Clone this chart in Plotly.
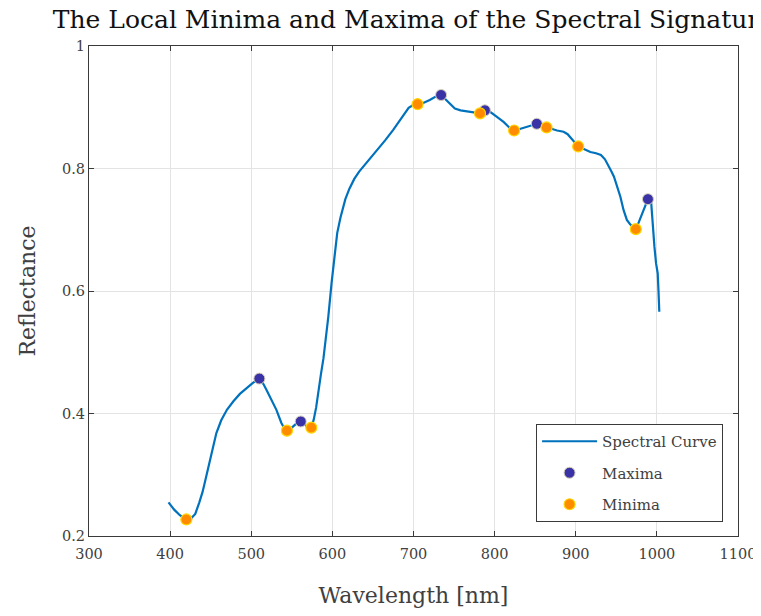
import plotly.graph_objects as go

wavelength = [398, 405, 412, 420, 426, 431, 436, 440, 445, 449, 453, 457, 463, 470, 478, 486, 494, 502, 510,
              515, 519, 525, 531, 537, 541, 544, 550, 556, 561, 566, 570, 574, 577, 580, 583, 586, 589, 592,
              595, 599, 603, 606, 610, 616, 621, 627, 633, 640, 648, 656, 665, 675, 685, 694, 700, 705, 712,
              720, 727, 734, 740, 746, 751, 758, 766, 774, 782, 788, 794, 802, 811, 818, 824, 832, 840, 846,
              852, 858, 864, 870, 877, 885, 890, 896, 903, 910, 918, 925, 931, 936, 940, 944, 947, 951, 955,
              959, 963, 967, 970, 974, 977, 980, 984, 989, 993, 995, 997, 999, 1001, 1002, 1003]
reflectance = [0.255, 0.243, 0.234, 0.227, 0.229, 0.236, 0.255, 0.272, 0.300, 0.324, 0.348, 0.368, 0.389, 0.406,
               0.420, 0.432, 0.441, 0.450, 0.457, 0.448, 0.438, 0.422, 0.406, 0.385, 0.375, 0.372, 0.377, 0.384,
               0.387, 0.382, 0.377, 0.377, 0.390, 0.410, 0.440, 0.465, 0.490, 0.520, 0.558, 0.613, 0.667, 0.695,
               0.720, 0.750, 0.767, 0.783, 0.795, 0.806, 0.818, 0.830, 0.846, 0.863, 0.882, 0.899, 0.904, 0.905,
               0.907, 0.912, 0.917, 0.920, 0.912, 0.903, 0.898, 0.895, 0.893, 0.892, 0.890, 0.895, 0.893, 0.885,
               0.876, 0.867, 0.862, 0.865, 0.868, 0.870, 0.873, 0.870, 0.867, 0.865, 0.862, 0.860, 0.856, 0.847,
               0.836, 0.832, 0.827, 0.825, 0.822, 0.815, 0.806, 0.795, 0.787, 0.770, 0.754, 0.732, 0.716, 0.709,
               0.706, 0.701, 0.710, 0.720, 0.735, 0.750, 0.744, 0.700, 0.672, 0.645, 0.629, 0.600, 0.566]

max_wl = [510, 561, 734, 788, 852, 989]
max_val = [0.457, 0.387, 0.920, 0.895, 0.873, 0.750]
min_wl = [420, 544, 574, 705, 782, 824, 864, 903, 974]
min_val = [0.227, 0.372, 0.377, 0.905, 0.890, 0.862, 0.867, 0.836, 0.701]

FONT = "DejaVu Serif"
W, H = 753, 600  # page body has an 8px margin inside the 761x616 window

fig = go.Figure()
fig.add_trace(go.Scatter(x=wavelength, y=reflectance, mode="lines", name="Spectral Curve",
                         line=dict(color="#0072BD", width=2.2), legendgroup="a"))
fig.add_trace(go.Scatter(x=max_wl, y=max_val, mode="markers", name="Maxima",
                         marker=dict(color="#3a33a8", size=11, line=dict(color="#d8d0b8", width=1)),
                         legendgroup="b"))
fig.add_trace(go.Scatter(x=min_wl, y=min_val, mode="markers", name="Minima",
                         marker=dict(color="#FF8C00", size=11, line=dict(color="#FFD700", width=1.2)),
                         legendgroup="c"))

axis_common = dict(showgrid=True, gridcolor="#e3e3e3", gridwidth=1, zeroline=False,
                   showline=True, linecolor="#3a3a3a", linewidth=1, mirror="ticks",
                   ticks="inside", ticklen=5, tickcolor="#3a3a3a", automargin=False,
                   tickfont=dict(family=FONT, size=14.5, color="#404040"))

fig.update_layout(
    width=W, height=H,
    paper_bgcolor="white", plot_bgcolor="white",
    margin=dict(l=81, r=W - 730, t=38, b=H - 528, autoexpand=False),
    title=dict(text="The Local Minima and Maxima of the Spectral Signature",
               x=405.5 / W, xanchor="center", xref="container",
               y=1 - 11 / H, yanchor="middle", yref="container",
               font=dict(family=FONT, size=25, color="#111111"), automargin=False),
    xaxis=dict(range=[300, 1100], dtick=100, tick0=300, ticklabelstandoff=5,
               title=dict(text="Wavelength [nm]", standoff=29,
                          font=dict(family=FONT, size=22, color="#404040")),
               **axis_common),
    yaxis=dict(range=[0.2, 1], dtick=0.2, tick0=0.2,
               title=dict(text="Reflectance", standoff=20,
                          font=dict(family=FONT, size=22, color="#404040")),
               **axis_common),
    legend=dict(x=0.977, y=0.0286, xanchor="right", yanchor="bottom",
                bgcolor="white", bordercolor="#3a3a3a", borderwidth=1,
                font=dict(family=FONT, size=15, color="#404040"),
                itemwidth=55, tracegroupgap=9, traceorder="grouped"),
    showlegend=True,
)

fig.write_html("out.html")
